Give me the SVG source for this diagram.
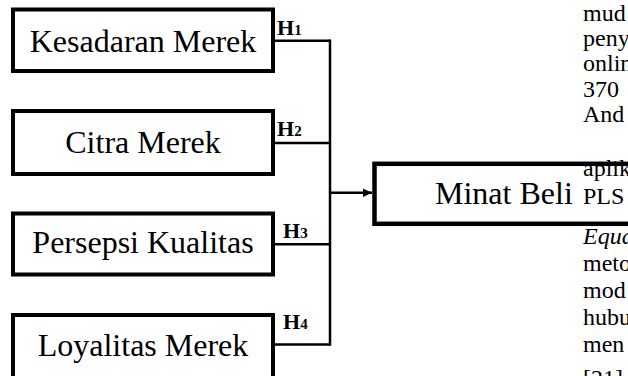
<svg xmlns="http://www.w3.org/2000/svg" width="628" height="376" viewBox="0 0 628 376">
  <style>
    .box { fill: #ffffff; stroke: #000000; stroke-width: 4; }
    .lbl { font-family: "Liberation Serif", "Times New Roman", serif; font-size: 32px; fill: #000000; }
    .h { font-family: "Liberation Serif", "Times New Roman", serif; font-size: 22px; font-weight: bold; fill: #000000; }
    .h .d { font-size: 15px; }
    .con { fill: none; stroke: #000000; stroke-width: 2.5; }
    .page { font-family: "Liberation Serif", "Times New Roman", serif; font-size: 24px; fill: #000000; }
  </style>
  <defs>
    <marker id="arrow" markerUnits="userSpaceOnUse" markerWidth="10" markerHeight="10" refX="9" refY="5" orient="auto">
      <path d="M0,0.8 L9,5 L0,9.2 Z" fill="#000000"/>
    </marker>
  </defs>
  <rect width="628" height="376" fill="#ffffff"/>

  <g id="connectors">
    <polyline class="con" points="275,40.7 330,40.7"/>
    <polyline class="con" points="275,143 330,143"/>
    <polyline class="con" points="275,244.3 330,244.3"/>
    <polyline class="con" points="275,344.5 330,344.5"/>
    <line class="con" x1="330" y1="39.5" x2="330" y2="345.7"/>
    <line class="con" x1="330" y1="192.7" x2="372" y2="192.7" marker-end="url(#arrow)"/>
  </g>

  <g id="node-kesadaran">
    <rect class="box" x="13" y="9.5" width="260" height="61.5"/>
    <text class="lbl" x="143" y="51.7" text-anchor="middle">Kesadaran Merek</text>
  </g>
  <g id="node-citra">
    <rect class="box" x="13" y="111" width="260" height="63"/>
    <text class="lbl" x="143" y="152.5" text-anchor="middle">Citra Merek</text>
  </g>
  <g id="node-persepsi">
    <rect class="box" x="13" y="213.5" width="260" height="61"/>
    <text class="lbl" x="143" y="252.7" text-anchor="middle">Persepsi Kualitas</text>
  </g>
  <g id="node-loyalitas">
    <rect class="box" x="13" y="315" width="260" height="66"/>
    <text class="lbl" x="143" y="356" text-anchor="middle">Loyalitas Merek</text>
  </g>
  <g id="node-minat">
    <rect class="box" x="374.5" y="163.8" width="330" height="60" style="stroke-width:4.5"/>
    <text class="lbl" x="435" y="204">Minat Beli</text>
  </g>

  <g id="hypothesis-labels">
    <text class="h" x="277" y="34.5">H<tspan class="d">1</tspan></text>
    <text class="h" x="277" y="135.5">H<tspan class="d">2</tspan></text>
    <text class="h" x="283" y="237.7">H<tspan class="d">3</tspan></text>
    <text class="h" x="283" y="328.8">H<tspan class="d">4</tspan></text>
  </g>

  <g id="page-text" class="page">
    <text x="583" y="21">mud</text>
    <text x="583" y="46">peny</text>
    <text x="583" y="71">onlin</text>
    <text x="583" y="96.5">370</text>
    <text x="583" y="121.5">And</text>
    <text x="583" y="176">aplik</text>
    <text x="583" y="204">PLS</text>
    <text x="583" y="244" font-style="italic">Equa</text>
    <text x="583" y="270.5">meto</text>
    <text x="583" y="297.5">mod</text>
    <text x="583" y="324.5">hubu</text>
    <text x="583" y="351.5">men</text>
    <text x="583" y="386">[21]</text>
  </g>
</svg>
